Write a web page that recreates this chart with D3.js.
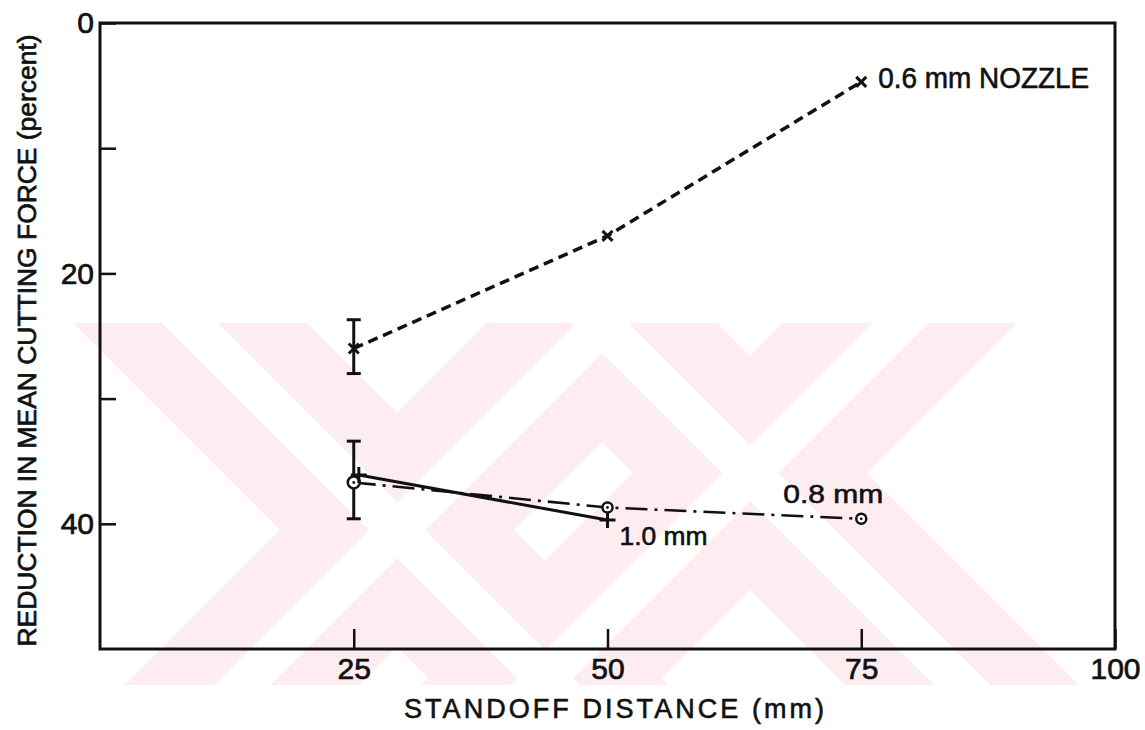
<!DOCTYPE html>
<html>
<head>
<meta charset="utf-8">
<script src="https://cdn.jsdelivr.net/npm/d3@7"></script>
<style>
  html, body { margin: 0; padding: 0; background: #fff; }
  svg { display: block; }
  text { font-family: "Liberation Sans", Arial, sans-serif; fill: #111; }
</style>
</head>
<body>
<svg id="chart" width="1145" height="730"></svg>
<script>
// Standoff distance (mm) against reduction in mean cutting force (percent)
const standoff = [25, 50, 75];
const nozzle06 = [26.0, 17.0, 4.7];
const nozzle08 = [36.7, 38.7, 39.6];
const standoff10 = [25.5, 50];
const nozzle10 = [36.1, 39.7];
const errorBars = [
  { x: 25, lo: 23.7, hi: 28.0 },
  { x: 25, lo: 33.4, hi: 39.6 }
];
const xTicks = [25, 50, 75, 100];
const xTickLabels = ["25", "50", "75", "100"];
const yTicks = [0, 10, 20, 30, 40];
const yTickLabels = ["0", "", "20", "", "40"];
const seriesLabels = ["0.6 mm NOZZLE", "0.8 mm", "1.0 mm"];
const xTitle = "STANDOFF DISTANCE (mm)";
const yTitle = "REDUCTION IN MEAN CUTTING FORCE (percent)";

const plot = { left: 100, right: 1115, top: 23, bottom: 649 };
const ink = "#111";

const svg = d3.select("#chart");

const x = d3.scaleLinear().domain([0, 100]).range([plot.left, plot.right]);
const y = d3.scaleLinear().domain([0, 50]).range([plot.top, plot.bottom]);

// --- pale background emblem: two crossed double-stripe X shapes ---
const band = { top: 323, bottom: 685 };
const emblem = [
  { cx: 397, cy: 530 },
  { cx: 750, cy: 473 }
];
const armHalf = 117, stripeHalf = 28;
svg.append("defs").append("clipPath").attr("id", "bandClip")
  .append("rect").attr("x", 0).attr("y", band.top)
  .attr("width", 1080).attr("height", band.bottom - band.top);
const bg = svg.append("g").attr("clip-path", "url(#bandClip)");
function backslash(c, hw) {
  const t = band.top, b = band.bottom;
  return [[t + c - hw, t], [t + c + hw, t], [b + c + hw, b], [b + c - hw, b]];
}
function slash(s, hw) {
  const t = band.top, b = band.bottom;
  return [[s - t - hw, t], [s - t + hw, t], [s - b + hw, b], [s - b - hw, b]];
}
const armPolys = [], stripePolys = [];
emblem.forEach(e => {
  armPolys.push(backslash(e.cx - e.cy, armHalf), slash(e.cx + e.cy, armHalf));
  stripePolys.push(backslash(e.cx - e.cy, stripeHalf), slash(e.cx + e.cy, stripeHalf));
});
bg.selectAll("polygon.arm").data(armPolys).join("polygon").attr("class", "arm")
  .attr("points", d => d.map(p => p.join(",")).join(" "))
  .attr("fill", "#fdedf0");
bg.selectAll("polygon.stripe").data(stripePolys).join("polygon").attr("class", "stripe")
  .attr("points", d => d.map(p => p.join(",")).join(" "))
  .attr("fill", "#fff");

// --- axes ---
const axisFont = 30;
const yAxis = d3.axisLeft(y).tickValues(yTicks)
  .tickFormat((d, i) => yTickLabels[i]).tickSize(-16).tickPadding(6);
const gy = svg.append("g").attr("transform", `translate(${plot.left},0)`).call(yAxis);

const xAxis = d3.axisBottom(x).tickValues(xTicks)
  .tickFormat((d, i) => xTickLabels[i]).tickSize(-20).tickPadding(9);
const gx = svg.append("g").attr("transform", `translate(0,${plot.bottom})`).call(xAxis);

[gx, gy].forEach(g => {
  g.select(".domain").remove();
  g.selectAll(".tick line").attr("stroke", ink).attr("stroke-width", 2.5);
  g.selectAll(".tick text").attr("font-size", axisFont)
    .attr("fill", ink).attr("stroke", ink).attr("stroke-width", 0.7)
    .style("font-family", '"Liberation Sans", Arial, sans-serif');
});
gy.selectAll(".tick text").attr("dy", "0.33em");

// frame
svg.append("rect")
  .attr("x", plot.left).attr("y", plot.top)
  .attr("width", plot.right - plot.left).attr("height", plot.bottom - plot.top)
  .attr("fill", "none").attr("stroke", ink).attr("stroke-width", 3);

// axis titles
svg.append("text")
  .attr("transform", `translate(36,${(34 + 647) / 2}) rotate(-90)`)
  .attr("text-anchor", "middle")
  .attr("font-size", 26.5)
  .attr("stroke", ink).attr("stroke-width", 0.7)
  .attr("textLength", 612).attr("lengthAdjust", "spacingAndGlyphs")
  .text(yTitle);

svg.append("text")
  .attr("x", 614).attr("y", 718)
  .attr("text-anchor", "middle")
  .attr("font-size", 27)
  .attr("stroke", ink).attr("stroke-width", 0.6)
  .attr("textLength", 420).attr("lengthAdjust", "spacing")
  .text(xTitle);

// --- error bars ---
const capHalf = 7;
const eb = svg.append("g").attr("stroke", ink).attr("stroke-width", 3).attr("fill", "none");
errorBars.forEach(e => {
  eb.append("line").attr("x1", x(e.x)).attr("x2", x(e.x)).attr("y1", y(e.lo)).attr("y2", y(e.hi));
  eb.append("line").attr("x1", x(e.x) - capHalf).attr("x2", x(e.x) + capHalf).attr("y1", y(e.lo)).attr("y2", y(e.lo));
  eb.append("line").attr("x1", x(e.x) - capHalf).attr("x2", x(e.x) + capHalf).attr("y1", y(e.hi)).attr("y2", y(e.hi));
});

// --- series lines ---
const line = d3.line().x(d => x(d[0])).y(d => y(d[1]));
const pts06 = standoff.map((s, i) => [s, nozzle06[i]]);
const pts08 = standoff.map((s, i) => [s, nozzle08[i]]);
const pts10 = standoff10.map((s, i) => [s, nozzle10[i]]);

svg.append("path").datum(pts06).attr("d", line)
  .attr("fill", "none").attr("stroke", ink).attr("stroke-width", 3.5)
  .attr("stroke-dasharray", "10,6");
svg.append("path").datum(pts08).attr("d", line)
  .attr("fill", "none").attr("stroke", ink).attr("stroke-width", 2.6)
  .attr("stroke-dasharray", "22,7,3,7");
svg.append("path").datum(pts10).attr("d", line)
  .attr("fill", "none").attr("stroke", ink).attr("stroke-width", 3);

// --- markers ---
const mk = svg.append("g").attr("stroke", ink).attr("fill", "none");
pts06.forEach(p => {
  const cx = x(p[0]), cy = y(p[1]), r = 5;
  mk.append("path")
    .attr("d", `M${cx - r},${cy - r}L${cx + r},${cy + r}M${cx - r},${cy + r}L${cx + r},${cy - r}`)
    .attr("stroke-width", 3);
});
pts08.forEach((p, i) => {
  const cx = x(p[0]), cy = y(p[1]);
  mk.append("circle").attr("cx", cx).attr("cy", cy).attr("r", i === 0 ? 6 : 5)
    .attr("fill", "#fff").attr("stroke-width", 2.5);
  mk.append("circle").attr("cx", cx).attr("cy", cy).attr("r", 1.4).attr("fill", ink).attr("stroke", "none");
});
pts10.forEach(p => {
  const cx = x(p[0]), cy = y(p[1]), r = 8;
  mk.append("path")
    .attr("d", `M${cx - r},${cy}L${cx + r},${cy}M${cx},${cy - r}L${cx},${cy + r}`)
    .attr("stroke-width", 3);
});

// --- series labels ---
const lab = svg.append("g").attr("stroke", ink).attr("stroke-width", 0.6);
lab.append("text")
  .attr("x", x(standoff[2]) + 17).attr("y", y(nozzle06[2]) + 6)
  .attr("font-size", 29).attr("textLength", 211).attr("lengthAdjust", "spacingAndGlyphs")
  .text(seriesLabels[0]);
lab.append("text")
  .attr("x", x(standoff[2]) - 78).attr("y", y(nozzle08[2]) - 16)
  .attr("font-size", 26).attr("textLength", 100).attr("lengthAdjust", "spacingAndGlyphs")
  .text(seriesLabels[1]);
lab.append("text")
  .attr("x", x(standoff10[1]) + 12).attr("y", y(nozzle10[1]) + 25)
  .attr("font-size", 25).attr("textLength", 88).attr("lengthAdjust", "spacingAndGlyphs")
  .text(seriesLabels[2]);
</script>
</body>
</html>
